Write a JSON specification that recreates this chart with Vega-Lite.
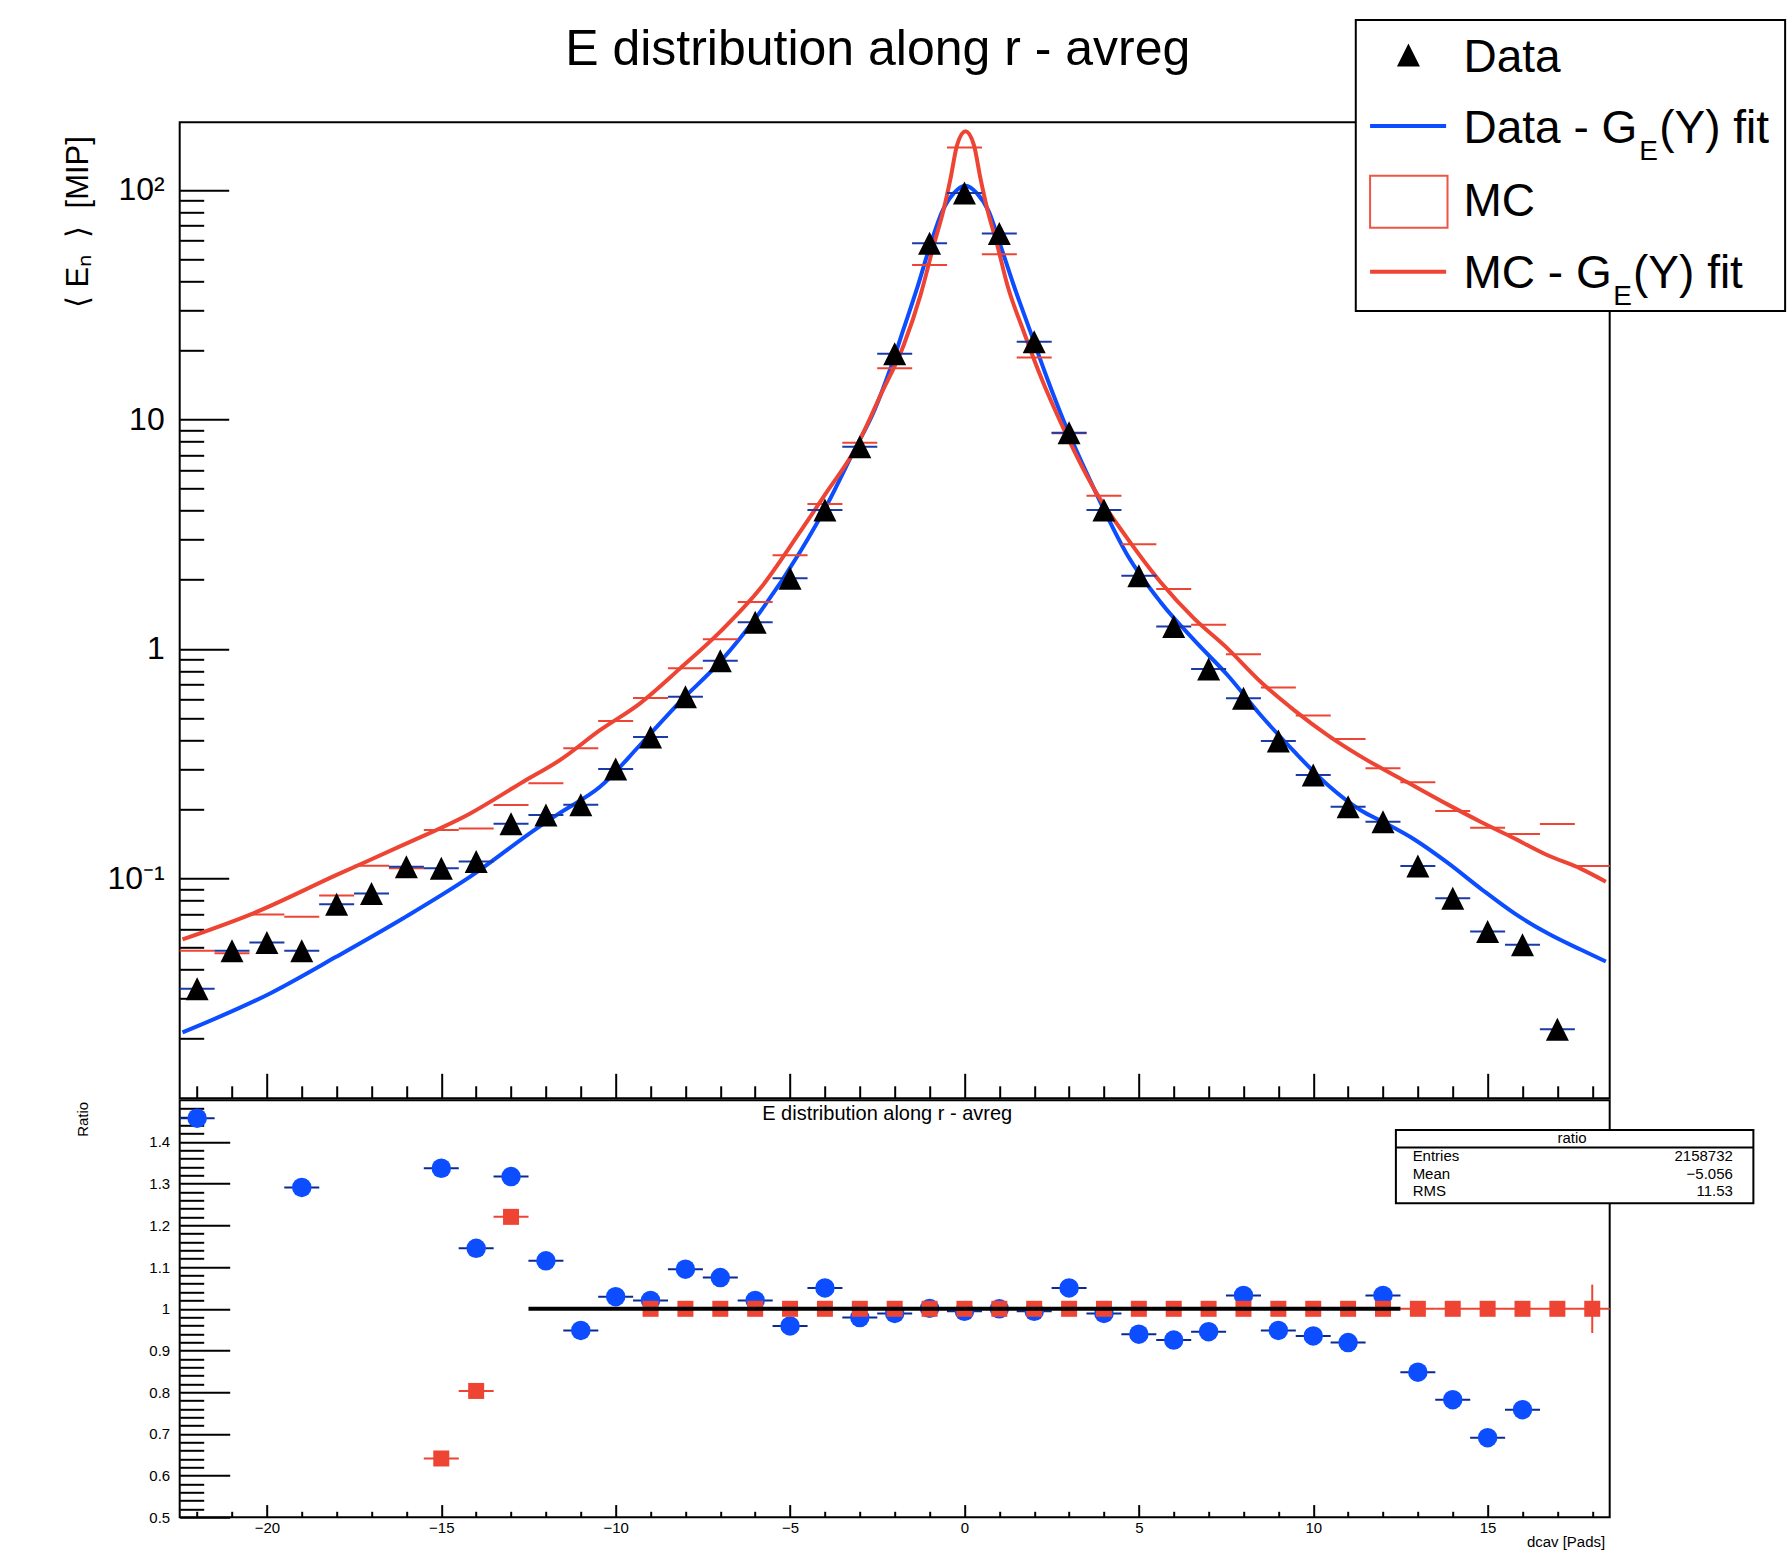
{
  "$schema": "https://vega.github.io/schema/vega-lite/v6.json",
  "background": "white",
  "padding": {"left": 61.7, "top": 17.3, "right": 0, "bottom": 0},
  "spacing": -2,
  "config": {
    "font": "Liberation Sans",
    "view": {"stroke": "black", "strokeWidth": 2},
    "axis": {"grid": false, "domain": false, "tickColor": "black", "labelColor": "black", "titleColor": "black", "labelFont": "Liberation Sans", "titleFont": "Liberation Sans", "titleFontWeight": "normal", "labelOverlap": false, "labelBound": false, "labelFlush": false},
    "text": {"font": "Liberation Sans", "color": "black"}
  },
  "datasets": {
    "dataPts": [
      {"x": -22, "y": 0.033}, {"x": -21, "y": 0.0483}, {"x": -20, "y": 0.0525}, {"x": -19, "y": 0.0483},
      {"x": -18, "y": 0.077}, {"x": -17, "y": 0.0858}, {"x": -16, "y": 0.1124}, {"x": -15, "y": 0.1106},
      {"x": -14, "y": 0.1183}, {"x": -13, "y": 0.173}, {"x": -12, "y": 0.1888}, {"x": -11, "y": 0.2094},
      {"x": -10, "y": 0.2997}, {"x": -9, "y": 0.413}, {"x": -8, "y": 0.619}, {"x": -7, "y": 0.888},
      {"x": -6, "y": 1.305}, {"x": -5, "y": 2.03}, {"x": -4, "y": 4.03}, {"x": -3, "y": 7.6},
      {"x": -2, "y": 19.3}, {"x": -1, "y": 58.5}, {"x": 0, "y": 97}, {"x": 1, "y": 64.6},
      {"x": 2, "y": 21.8}, {"x": 3, "y": 8.75}, {"x": 4, "y": 4.03}, {"x": 5, "y": 2.084},
      {"x": 6, "y": 1.25}, {"x": 7, "y": 0.817}, {"x": 8, "y": 0.6085}, {"x": 9, "y": 0.397},
      {"x": 10, "y": 0.2822}, {"x": 11, "y": 0.2053}, {"x": 12, "y": 0.1766}, {"x": 13, "y": 0.1132},
      {"x": 14, "y": 0.0818}, {"x": 15, "y": 0.0586}, {"x": 16, "y": 0.0513}, {"x": 17, "y": 0.022}
    ],
    "mcPts": [
      {"x": -22, "y": 0.0484}, {"x": -21, "y": 0.0471}, {"x": -20, "y": 0.0695}, {"x": -19, "y": 0.068},
      {"x": -18, "y": 0.0841}, {"x": -17, "y": 0.1135}, {"x": -16, "y": 0.1106}, {"x": -15, "y": 0.1625},
      {"x": -14, "y": 0.165}, {"x": -13, "y": 0.2088}, {"x": -12, "y": 0.2596}, {"x": -11, "y": 0.3685},
      {"x": -10, "y": 0.4844}, {"x": -9, "y": 0.6103}, {"x": -8, "y": 0.822}, {"x": -7, "y": 1.1},
      {"x": -6, "y": 1.6}, {"x": -5, "y": 2.56}, {"x": -4, "y": 4.28}, {"x": -3, "y": 7.91},
      {"x": -2, "y": 16.7}, {"x": -1, "y": 47.1}, {"x": 0, "y": 152.8}, {"x": 1, "y": 52.4},
      {"x": 2, "y": 18.6}, {"x": 3, "y": 8.69}, {"x": 4, "y": 4.65}, {"x": 5, "y": 2.853},
      {"x": 6, "y": 1.824}, {"x": 7, "y": 1.272}, {"x": 8, "y": 0.947}, {"x": 9, "y": 0.678},
      {"x": 10, "y": 0.5117}, {"x": 11, "y": 0.405}, {"x": 12, "y": 0.3015}, {"x": 13, "y": 0.262},
      {"x": 14, "y": 0.1967}, {"x": 15, "y": 0.1663}, {"x": 16, "y": 0.1561}, {"x": 17, "y": 0.1726},
      {"x": 18, "y": 0.1132}
    ],
    "fits": [
      {"series": "Data", "x": -22.42, "y": 0.0213}, {"series": "Data", "x": -19.91, "y": 0.0315},
      {"series": "Data", "x": -18.0, "y": 0.0456}, {"series": "Data", "x": -16.09, "y": 0.067},
      {"series": "Data", "x": -14.17, "y": 0.1017}, {"series": "Data", "x": -12.26, "y": 0.165},
      {"series": "Data", "x": -11.59, "y": 0.193}, {"series": "Data", "x": -10.44, "y": 0.251},
      {"series": "Data", "x": -9.3, "y": 0.381}, {"series": "Data", "x": -8.15, "y": 0.589},
      {"series": "Data", "x": -7.0, "y": 0.879}, {"series": "Data", "x": -5.85, "y": 1.452},
      {"series": "Data", "x": -4.71, "y": 2.649}, {"series": "Data", "x": -3.94, "y": 4.24},
      {"series": "Data", "x": -3.18, "y": 7.23}, {"series": "Data", "x": -2.6, "y": 10.8},
      {"series": "Data", "x": -2.12, "y": 16.7}, {"series": "Data", "x": -1.74, "y": 24.9},
      {"series": "Data", "x": -1.36, "y": 37.2}, {"series": "Data", "x": -0.98, "y": 57.5},
      {"series": "Data", "x": -0.64, "y": 80.4}, {"series": "Data", "x": -0.31, "y": 96.6},
      {"series": "Data", "x": 0.03, "y": 104.3}, {"series": "Data", "x": 0.36, "y": 96.6},
      {"series": "Data", "x": 0.7, "y": 80.4}, {"series": "Data", "x": 1.03, "y": 57.5},
      {"series": "Data", "x": 1.41, "y": 38.5}, {"series": "Data", "x": 1.89, "y": 24.1},
      {"series": "Data", "x": 2.37, "y": 15.1}, {"series": "Data", "x": 2.85, "y": 9.8},
      {"series": "Data", "x": 3.71, "y": 5.0}, {"series": "Data", "x": 4.67, "y": 2.566},
      {"series": "Data", "x": 5.62, "y": 1.601}, {"series": "Data", "x": 6.58, "y": 1.093},
      {"series": "Data", "x": 7.54, "y": 0.769}, {"series": "Data", "x": 8.49, "y": 0.515},
      {"series": "Data", "x": 9.45, "y": 0.357}, {"series": "Data", "x": 10.41, "y": 0.2556},
      {"series": "Data", "x": 11.36, "y": 0.198}, {"series": "Data", "x": 12.0, "y": 0.176},
      {"series": "Data", "x": 12.89, "y": 0.148}, {"series": "Data", "x": 13.85, "y": 0.117},
      {"series": "Data", "x": 14.81, "y": 0.09}, {"series": "Data", "x": 15.76, "y": 0.0705},
      {"series": "Data", "x": 16.72, "y": 0.0576}, {"series": "Data", "x": 17.68, "y": 0.0488},
      {"series": "Data", "x": 18.39, "y": 0.0434},
      {"series": "MC", "x": -22.42, "y": 0.0542}, {"series": "MC", "x": -20.39, "y": 0.0704},
      {"series": "MC", "x": -18.0, "y": 0.1035}, {"series": "MC", "x": -16.09, "y": 0.1398},
      {"series": "MC", "x": -14.17, "y": 0.1918}, {"series": "MC", "x": -12.65, "y": 0.2636},
      {"series": "MC", "x": -11.59, "y": 0.328}, {"series": "MC", "x": -10.44, "y": 0.443},
      {"series": "MC", "x": -9.3, "y": 0.579}, {"series": "MC", "x": -8.15, "y": 0.822},
      {"series": "MC", "x": -7.0, "y": 1.188}, {"series": "MC", "x": -5.85, "y": 1.835},
      {"series": "MC", "x": -4.71, "y": 3.24}, {"series": "MC", "x": -3.94, "y": 4.84},
      {"series": "MC", "x": -3.18, "y": 7.2}, {"series": "MC", "x": -2.4, "y": 12.8},
      {"series": "MC", "x": -1.74, "y": 21.1}, {"series": "MC", "x": -1.26, "y": 34.8},
      {"series": "MC", "x": -0.88, "y": 57.5}, {"series": "MC", "x": -0.59, "y": 83},
      {"series": "MC", "x": -0.4, "y": 112}, {"series": "MC", "x": -0.21, "y": 157},
      {"series": "MC", "x": 0.03, "y": 180}, {"series": "MC", "x": 0.27, "y": 157},
      {"series": "MC", "x": 0.46, "y": 112}, {"series": "MC", "x": 0.65, "y": 83},
      {"series": "MC", "x": 0.94, "y": 57.5}, {"series": "MC", "x": 1.23, "y": 38.5},
      {"series": "MC", "x": 1.7, "y": 24.1}, {"series": "MC", "x": 2.23, "y": 14.8},
      {"series": "MC", "x": 2.75, "y": 9.77}, {"series": "MC", "x": 3.71, "y": 5.0},
      {"series": "MC", "x": 4.67, "y": 3.03}, {"series": "MC", "x": 5.62, "y": 1.957},
      {"series": "MC", "x": 6.58, "y": 1.358}, {"series": "MC", "x": 7.54, "y": 1.005},
      {"series": "MC", "x": 8.49, "y": 0.719}, {"series": "MC", "x": 9.45, "y": 0.541},
      {"series": "MC", "x": 10.41, "y": 0.421}, {"series": "MC", "x": 11.36, "y": 0.34},
      {"series": "MC", "x": 12.7, "y": 0.262}, {"series": "MC", "x": 13.85, "y": 0.21},
      {"series": "MC", "x": 14.81, "y": 0.176}, {"series": "MC", "x": 15.76, "y": 0.1494},
      {"series": "MC", "x": 16.72, "y": 0.126}, {"series": "MC", "x": 17.68, "y": 0.11},
      {"series": "MC", "x": 18.39, "y": 0.0967}
    ],
    "ratioData": [
      {"x": -22, "r": 1.457}, {"x": -19, "r": 1.291}, {"x": -15, "r": 1.337}, {"x": -14, "r": 1.145},
      {"x": -13, "r": 1.317}, {"x": -12, "r": 1.115}, {"x": -11, "r": 0.948}, {"x": -10, "r": 1.029},
      {"x": -9, "r": 1.02}, {"x": -8, "r": 1.095}, {"x": -7, "r": 1.075}, {"x": -6, "r": 1.02},
      {"x": -5, "r": 0.959}, {"x": -4, "r": 1.05}, {"x": -3, "r": 0.979}, {"x": -2, "r": 0.989},
      {"x": -1, "r": 1.001}, {"x": 0, "r": 0.994}, {"x": 1, "r": 1.0}, {"x": 2, "r": 0.994},
      {"x": 3, "r": 1.05}, {"x": 4, "r": 0.989}, {"x": 5, "r": 0.939}, {"x": 6, "r": 0.925},
      {"x": 7, "r": 0.945}, {"x": 8, "r": 1.032}, {"x": 9, "r": 0.948}, {"x": 10, "r": 0.935},
      {"x": 11, "r": 0.919}, {"x": 12, "r": 1.032}, {"x": 13, "r": 0.848}, {"x": 14, "r": 0.782},
      {"x": 15, "r": 0.691}, {"x": 16, "r": 0.758}
    ],
    "ratioMC": [
      {"x": -15, "r": 0.641}, {"x": -14, "r": 0.803}, {"x": -13, "r": 1.2205},
      {"x": -9, "r": 1}, {"x": -8, "r": 1}, {"x": -7, "r": 1}, {"x": -6, "r": 1}, {"x": -5, "r": 1},
      {"x": -4, "r": 1}, {"x": -3, "r": 1}, {"x": -2, "r": 1}, {"x": -1, "r": 1}, {"x": 0, "r": 1},
      {"x": 1, "r": 1}, {"x": 2, "r": 1}, {"x": 3, "r": 1}, {"x": 4, "r": 1}, {"x": 5, "r": 1},
      {"x": 6, "r": 1}, {"x": 7, "r": 1}, {"x": 8, "r": 1}, {"x": 9, "r": 1}, {"x": 10, "r": 1},
      {"x": 11, "r": 1}, {"x": 12, "r": 1}, {"x": 13, "r": 1}, {"x": 14, "r": 1}, {"x": 15, "r": 1},
      {"x": 16, "r": 1}, {"x": 17, "r": 1}, {"x": 18, "r": 1}
    ],
    "ratioMCErr": [{"x": 18, "lo": 0.942, "hi": 1.058}],
    "ratioFit": [{"x": -12.5, "r": 1}, {"x": 12.5, "r": 1}],
    "one": [{"k": 0}]
  },
  "vconcat": [
    {
      "width": 1430,
      "height": 976,
      "data": {"name": "one"},
      "resolve": {"axis": {"x": "independent", "y": "independent"}},
      "layer": [
        {
          "data": {"name": "fits"},
          "mark": {"type": "line", "interpolate": "monotone", "strokeWidth": 4, "clip": true},
          "encoding": {
            "x": {"field": "x", "type": "quantitative", "scale": {"domain": [-22.5, 18.5], "nice": false, "zero": false},
              "axis": {"orient": "bottom", "values": [-20, -15, -10, -5, 0, 5, 10, 15], "tickSize": -25, "tickWidth": 2, "labels": false, "title": null}},
            "y": {"field": "y", "type": "quantitative", "scale": {"type": "log", "domain": [0.011, 197], "nice": false},
              "axis": {"orient": "left", "values": [0.1, 1, 10, 100], "tickSize": -49, "tickWidth": 2,
                "labelExpr": "datum.value > 50 ? '10²' : datum.value > 5 ? '10' : datum.value > 0.5 ? '1' : '10⁻¹'",
                "labelFontSize": 32, "labelPadding": 64.5,
                "title": "⟨\u00a0Eₙ\u00a0\u00a0⟩\u00a0\u00a0[MIP]", "titleFontSize": 31, "titleAngle": 270, "titleAlign": "right", "titleBaseline": "alphabetic", "titleX": -92, "titleY": 13.3}},
            "color": {"field": "series", "type": "nominal", "scale": {"domain": ["Data", "MC"], "range": ["#0b4dff", "#ee4433"]}, "legend": null}
          }
        },
        {
          "data": {"name": "mcPts"},
          "mark": {"type": "tick", "orient": "horizontal", "size": 35, "thickness": 2, "color": "#ee4433", "opacity": 1},
          "encoding": {
            "x": {"field": "x", "type": "quantitative",
              "axis": {"orient": "bottom", "values": [-22, -21, -19, -18, -17, -16, -14, -13, -12, -11, -9, -8, -7, -6, -4, -3, -2, -1, 1, 2, 3, 4, 6, 7, 8, 9, 11, 12, 13, 14, 16, 17, 18], "tickSize": -12.5, "tickWidth": 2, "labels": false, "title": null}},
            "y": {"field": "y", "type": "quantitative",
              "axis": {"orient": "left", "values": [0.02, 0.03, 0.04, 0.05, 0.06, 0.07, 0.08, 0.09, 0.2, 0.3, 0.4, 0.5, 0.6, 0.7, 0.8, 0.9, 2, 3, 4, 5, 6, 7, 8, 9, 20, 30, 40, 50, 60, 70, 80, 90], "tickSize": -24, "tickWidth": 2, "labels": false, "title": null}}
          }
        },
        {
          "data": {"name": "dataPts"},
          "mark": {"type": "tick", "orient": "horizontal", "size": 35, "thickness": 2, "color": "#1a3aa8", "opacity": 1},
          "encoding": {
            "x": {"field": "x", "type": "quantitative", "axis": null},
            "y": {"field": "y", "type": "quantitative", "axis": null}
          }
        },
        {
          "data": {"name": "dataPts"},
          "mark": {"type": "point", "shape": "M0,-1L1,1L-1,1Z", "size": 529, "filled": true, "color": "black", "opacity": 1},
          "encoding": {
            "x": {"field": "x", "type": "quantitative", "axis": null},
            "y": {"field": "y", "type": "quantitative", "axis": null}
          }
        },
        {
          "mark": {"type": "text", "text": "E distribution along r - avreg", "align": "center", "baseline": "alphabetic", "fontSize": 50},
          "encoding": {"x": {"datum": -2.485, "type": "quantitative", "axis": null}, "y": {"datum": 350.1, "type": "quantitative", "axis": null}}
        },
        {
          "mark": {"type": "rect", "fill": "white", "stroke": "black", "strokeWidth": 2},
          "encoding": {
            "x": {"datum": 11.22, "type": "quantitative", "axis": null}, "x2": {"datum": 23.53},
            "y": {"datum": 549.9, "type": "quantitative", "axis": null}, "y2": {"datum": 29.67}
          }
        },
        {
          "mark": {"type": "point", "shape": "M0,-1L1,1L-1,1Z", "size": 529, "filled": true, "color": "black", "opacity": 1},
          "encoding": {"x": {"datum": 12.73, "type": "quantitative", "axis": null}, "y": {"datum": 387, "type": "quantitative", "axis": null}}
        },
        {
          "mark": {"type": "text", "text": "Data", "align": "left", "baseline": "alphabetic", "fontSize": 46},
          "encoding": {"x": {"datum": 14.31, "type": "quantitative", "axis": null}, "y": {"datum": 327.3, "type": "quantitative", "axis": null}}
        },
        {
          "mark": {"type": "rule", "color": "#0b4dff", "strokeWidth": 4},
          "encoding": {"x": {"datum": 11.63, "type": "quantitative", "axis": null}, "x2": {"datum": 13.81}, "y": {"datum": 189.8, "type": "quantitative", "axis": null}}
        },
        {
          "mark": {"type": "text", "text": "Data - G", "align": "left", "baseline": "alphabetic", "fontSize": 46},
          "encoding": {"x": {"datum": 14.31, "type": "quantitative", "axis": null}, "y": {"datum": 159.4, "type": "quantitative", "axis": null}}
        },
        {
          "mark": {"type": "text", "text": "E", "align": "left", "baseline": "alphabetic", "fontSize": 28},
          "encoding": {"x": {"datum": 19.35, "type": "quantitative", "axis": null}, "y": {"datum": 135.0, "type": "quantitative", "axis": null}}
        },
        {
          "mark": {"type": "text", "text": "(Y) fit", "align": "left", "baseline": "alphabetic", "fontSize": 46},
          "encoding": {"x": {"datum": 19.92, "type": "quantitative", "axis": null}, "y": {"datum": 159.4, "type": "quantitative", "axis": null}}
        },
        {
          "mark": {"type": "rect", "filled": false, "color": "#ee5544", "strokeWidth": 2},
          "encoding": {
            "x": {"datum": 11.63, "type": "quantitative", "axis": null}, "x2": {"datum": 13.85},
            "y": {"datum": 115.3, "type": "quantitative", "axis": null}, "y2": {"datum": 68.44}
          }
        },
        {
          "mark": {"type": "text", "text": "MC", "align": "left", "baseline": "alphabetic", "fontSize": 46},
          "encoding": {"x": {"datum": 14.31, "type": "quantitative", "axis": null}, "y": {"datum": 77.2, "type": "quantitative", "axis": null}}
        },
        {
          "mark": {"type": "rule", "color": "#ee4433", "strokeWidth": 4},
          "encoding": {"x": {"datum": 11.63, "type": "quantitative", "axis": null}, "x2": {"datum": 13.81}, "y": {"datum": 44.0, "type": "quantitative", "axis": null}}
        },
        {
          "mark": {"type": "text", "text": "MC - G", "align": "left", "baseline": "alphabetic", "fontSize": 46},
          "encoding": {"x": {"datum": 14.31, "type": "quantitative", "axis": null}, "y": {"datum": 37.22, "type": "quantitative", "axis": null}}
        },
        {
          "mark": {"type": "text", "text": "E", "align": "left", "baseline": "alphabetic", "fontSize": 28},
          "encoding": {"x": {"datum": 18.6, "type": "quantitative", "axis": null}, "y": {"datum": 31.5, "type": "quantitative", "axis": null}}
        },
        {
          "mark": {"type": "text", "text": "(Y) fit", "align": "left", "baseline": "alphabetic", "fontSize": 46},
          "encoding": {"x": {"datum": 19.17, "type": "quantitative", "axis": null}, "y": {"datum": 37.22, "type": "quantitative", "axis": null}}
        }
      ]
    },
    {
      "width": 1430,
      "height": 417,
      "data": {"name": "one"},
      "resolve": {"axis": {"x": "independent", "y": "independent"}},
      "layer": [
        {
          "data": {"name": "ratioMC"},
          "mark": {"type": "tick", "orient": "horizontal", "size": 35, "thickness": 2, "color": "#ee4433", "opacity": 1},
          "encoding": {
            "x": {"field": "x", "type": "quantitative", "scale": {"domain": [-22.5, 18.5], "nice": false, "zero": false},
              "axis": {"orient": "bottom", "values": [-20, -15, -10, -5, 0, 5, 10, 15], "format": "d", "tickSize": -12.7, "tickWidth": 2, "labelFontSize": 15, "labelPadding": 15.5,
                "title": "dcav [Pads]", "titleFontSize": 15, "titleAlign": "right", "titleBaseline": "alphabetic", "titleX": 1425, "titleY": 29}},
            "y": {"field": "r", "type": "quantitative", "scale": {"domain": [0.5, 1.5], "nice": false, "zero": false},
              "axis": {"orient": "left", "values": [0.5, 0.6, 0.7, 0.8, 0.9, 1, 1.1, 1.2, 1.3, 1.4], "format": ".2~f",
                "tickSize": -50, "tickWidth": 2, "labelFontSize": 15, "labelPadding": 60,
                "title": "Ratio", "titleFontSize": 15, "titleAngle": 270, "titleAlign": "right", "titleBaseline": "alphabetic", "titleX": -92.5, "titleY": 1}}
          }
        },
        {
          "data": {"name": "ratioData"},
          "mark": {"type": "tick", "orient": "horizontal", "size": 35, "thickness": 2, "color": "#0a2a90", "opacity": 1},
          "encoding": {
            "x": {"field": "x", "type": "quantitative",
              "axis": {"orient": "bottom", "values": [-22, -21, -19, -18, -17, -16, -14, -13, -12, -11, -9, -8, -7, -6, -4, -3, -2, -1, 1, 2, 3, 4, 6, 7, 8, 9, 11, 12, 13, 14, 16, 17, 18], "tickSize": -6, "tickWidth": 2, "labels": false, "title": null}},
            "y": {"field": "r", "type": "quantitative",
              "axis": {"orient": "left", "values": [0.52, 0.54, 0.56, 0.58, 0.62, 0.64, 0.66, 0.68, 0.72, 0.74, 0.76, 0.78, 0.82, 0.84, 0.86, 0.88, 0.92, 0.94, 0.96, 0.98, 1.02, 1.04, 1.06, 1.08, 1.12, 1.14, 1.16, 1.18, 1.22, 1.24, 1.26, 1.28, 1.32, 1.34, 1.36, 1.38, 1.42, 1.44, 1.46, 1.48], "tickSize": -24, "tickWidth": 2, "labels": false, "title": null}}
          }
        },
        {
          "data": {"name": "ratioData"},
          "mark": {"type": "point", "shape": "circle", "size": 380, "filled": true, "color": "#0b4dff", "opacity": 1},
          "encoding": {
            "x": {"field": "x", "type": "quantitative", "axis": null},
            "y": {"field": "r", "type": "quantitative", "axis": null}
          }
        },
        {
          "data": {"name": "ratioMCErr"},
          "mark": {"type": "rule", "color": "#ee4433", "strokeWidth": 2},
          "encoding": {
            "x": {"field": "x", "type": "quantitative", "axis": null},
            "y": {"field": "lo", "type": "quantitative", "axis": null},
            "y2": {"field": "hi"}
          }
        },
        {
          "data": {"name": "ratioMC"},
          "mark": {"type": "point", "shape": "square", "size": 256, "filled": true, "color": "#ee4433", "opacity": 1},
          "encoding": {
            "x": {"field": "x", "type": "quantitative", "axis": null},
            "y": {"field": "r", "type": "quantitative", "axis": null}
          }
        },
        {
          "data": {"name": "ratioFit"},
          "mark": {"type": "line", "color": "black", "strokeWidth": 4},
          "encoding": {
            "x": {"field": "x", "type": "quantitative", "axis": null},
            "y": {"field": "r", "type": "quantitative", "axis": null}
          }
        },
        {
          "mark": {"type": "text", "text": "E distribution along r - avreg", "align": "center", "baseline": "alphabetic", "fontSize": 20},
          "encoding": {"x": {"datum": -2.215, "type": "quantitative", "axis": null}, "y": {"datum": 1.452, "type": "quantitative", "axis": null}}
        },
        {
          "mark": {"type": "rect", "fill": "white", "stroke": "black", "strokeWidth": 2},
          "encoding": {
            "x": {"datum": 12.37, "type": "quantitative", "axis": null}, "x2": {"datum": 22.62},
            "y": {"datum": 1.429, "type": "quantitative", "axis": null}, "y2": {"datum": 1.253}
          }
        },
        {
          "mark": {"type": "rule", "color": "black", "strokeWidth": 2},
          "encoding": {"x": {"datum": 12.37, "type": "quantitative", "axis": null}, "x2": {"datum": 22.62}, "y": {"datum": 1.3866, "type": "quantitative", "axis": null}}
        },
        {
          "mark": {"type": "text", "text": "ratio", "align": "center", "baseline": "alphabetic", "fontSize": 15},
          "encoding": {"x": {"datum": 17.42, "type": "quantitative", "axis": null}, "y": {"datum": 1.397, "type": "quantitative", "axis": null}}
        },
        {
          "mark": {"type": "text", "text": "Entries", "align": "left", "baseline": "alphabetic", "fontSize": 15},
          "encoding": {"x": {"datum": 12.85, "type": "quantitative", "axis": null}, "y": {"datum": 1.3547, "type": "quantitative", "axis": null}}
        },
        {
          "mark": {"type": "text", "text": "Mean", "align": "left", "baseline": "alphabetic", "fontSize": 15},
          "encoding": {"x": {"datum": 12.85, "type": "quantitative", "axis": null}, "y": {"datum": 1.3106, "type": "quantitative", "axis": null}}
        },
        {
          "mark": {"type": "text", "text": "RMS", "align": "left", "baseline": "alphabetic", "fontSize": 15},
          "encoding": {"x": {"datum": 12.85, "type": "quantitative", "axis": null}, "y": {"datum": 1.2707, "type": "quantitative", "axis": null}}
        },
        {
          "mark": {"type": "text", "text": "2158732", "align": "right", "baseline": "alphabetic", "fontSize": 15},
          "encoding": {"x": {"datum": 22.03, "type": "quantitative", "axis": null}, "y": {"datum": 1.3547, "type": "quantitative", "axis": null}}
        },
        {
          "mark": {"type": "text", "text": "−5.056", "align": "right", "baseline": "alphabetic", "fontSize": 15},
          "encoding": {"x": {"datum": 22.03, "type": "quantitative", "axis": null}, "y": {"datum": 1.3106, "type": "quantitative", "axis": null}}
        },
        {
          "mark": {"type": "text", "text": "11.53", "align": "right", "baseline": "alphabetic", "fontSize": 15},
          "encoding": {"x": {"datum": 22.03, "type": "quantitative", "axis": null}, "y": {"datum": 1.2707, "type": "quantitative", "axis": null}}
        }
      ]
    }
  ]
}
